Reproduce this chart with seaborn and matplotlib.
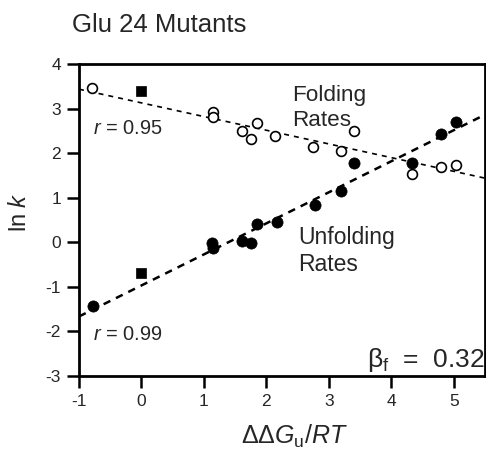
import numpy as np
import pandas as pd
import matplotlib
matplotlib.use("Agg")
import matplotlib.pyplot as plt
import seaborn as sns

# ---- data ----
fold_x = [-0.79, 1.14, 1.14, 1.61, 1.75, 1.85, 2.14, 2.74, 3.20, 3.40, 4.33, 4.80, 5.03]
fold_y = [3.46, 2.92, 2.81, 2.50, 2.32, 2.68, 2.39, 2.14, 2.05, 2.50, 1.53, 1.70, 1.73]
unfold_x = [-0.78, 1.13, 1.14, 1.61, 1.75, 1.85, 2.17, 2.78, 3.20, 3.40, 4.33, 4.80, 5.03]
unfold_y = [-1.43, -0.02, -0.12, 0.02, -0.01, 0.41, 0.46, 0.84, 1.15, 1.78, 1.78, 2.43, 2.70]
wt_x = [0.0, 0.0]
wt_y = [3.39, -0.69]
x_ticks = [-1, 0, 1, 2, 3, 4, 5]
y_ticks = [-3, -2, -1, 0, 1, 2, 3, 4]

sns.set_style("ticks")
plt.rcParams['font.family'] = ['Liberation Sans', 'DejaVu Sans']
plt.rcParams['mathtext.fontset'] = 'custom'
plt.rcParams['mathtext.rm'] = 'Liberation Sans'
plt.rcParams['mathtext.it'] = 'Liberation Sans:italic'
plt.rcParams['axes.unicode_minus'] = False

fig = plt.figure(figsize=(4.86, 4.51), dpi=100)
ax = fig.add_axes([79/486, 1-376/451, (485-79)/486, (376-64)/451])
ax.set_xlim(-1, 5.5)
ax.set_ylim(-3, 4)

sns.regplot(x=fold_x, y=fold_y, ax=ax, ci=None, scatter=False, truncate=False,
            line_kws=dict(color='black', lw=1.2, ls=(0, (3, 3))))
sns.regplot(x=unfold_x, y=unfold_y, ax=ax, ci=None, scatter=False, truncate=False,
            line_kws=dict(color='black', lw=1.8, ls=(0, (3, 2.5))))

sns.scatterplot(x=fold_x, y=fold_y, ax=ax, marker='o', s=50, facecolor='white',
                edgecolor='black', linewidth=1.2, zorder=3)
sns.scatterplot(x=unfold_x, y=unfold_y, ax=ax, marker='o', s=65, color='black',
                edgecolor='black', linewidth=0.5, zorder=3)
sns.scatterplot(x=wt_x, y=wt_y, ax=ax, marker='s', s=60, color='black',
                edgecolor='black', linewidth=0.5, zorder=3)

ax.set_xlim(-1, 5.5)
ax.set_ylim(-3, 4)
ax.set_xticks(x_ticks)
ax.set_yticks(y_ticks)
ax.set_xticklabels([str(v) for v in x_ticks])
ax.set_yticklabels([str(v) for v in y_ticks])
ax.tick_params(direction='out', length=8.5, width=1.8, labelsize=12.5, pad=4.5, color='black')
for s in ax.spines.values():
    s.set_linewidth(2)
    s.set_color('black')

ax.set_xlabel(r'$\Delta\Delta G_{\rm u}/RT$', fontsize=18)
ax.xaxis.set_label_coords((295-79)/406, -(444-376)/312)
ax.xaxis.label.set_va('baseline')
ax.set_ylabel(r'ln $k$', fontsize=17)
ax.yaxis.set_label_coords(-(79-20)/406, (376-212)/312)
ax.yaxis.label.set_va('center')

fig.text(72/486, 1-32/451, 'Glu 24 Mutants', fontsize=18.5, ha='left', va='baseline')
ax.text(2.42, 2.62, 'Folding\nRates', fontsize=16.2, ha='left', va='baseline', linespacing=1.2)
ax.text(2.51, -0.645, 'Unfolding\nRates', fontsize=16.5, ha='left', va='baseline', linespacing=1.2)
ax.text(-0.78, 2.56, r'$r$ = 0.95', fontsize=14.4, ha='left', va='center')
ax.text(-0.78, -2.06, r'$r$ = 0.99', fontsize=14.4, ha='left', va='center')
ax.text(5.5, -2.63, r'β$_{\rm f}$  =  0.32', fontsize=19, ha='right', va='center')

fig.savefig('out.png', dpi=100)
